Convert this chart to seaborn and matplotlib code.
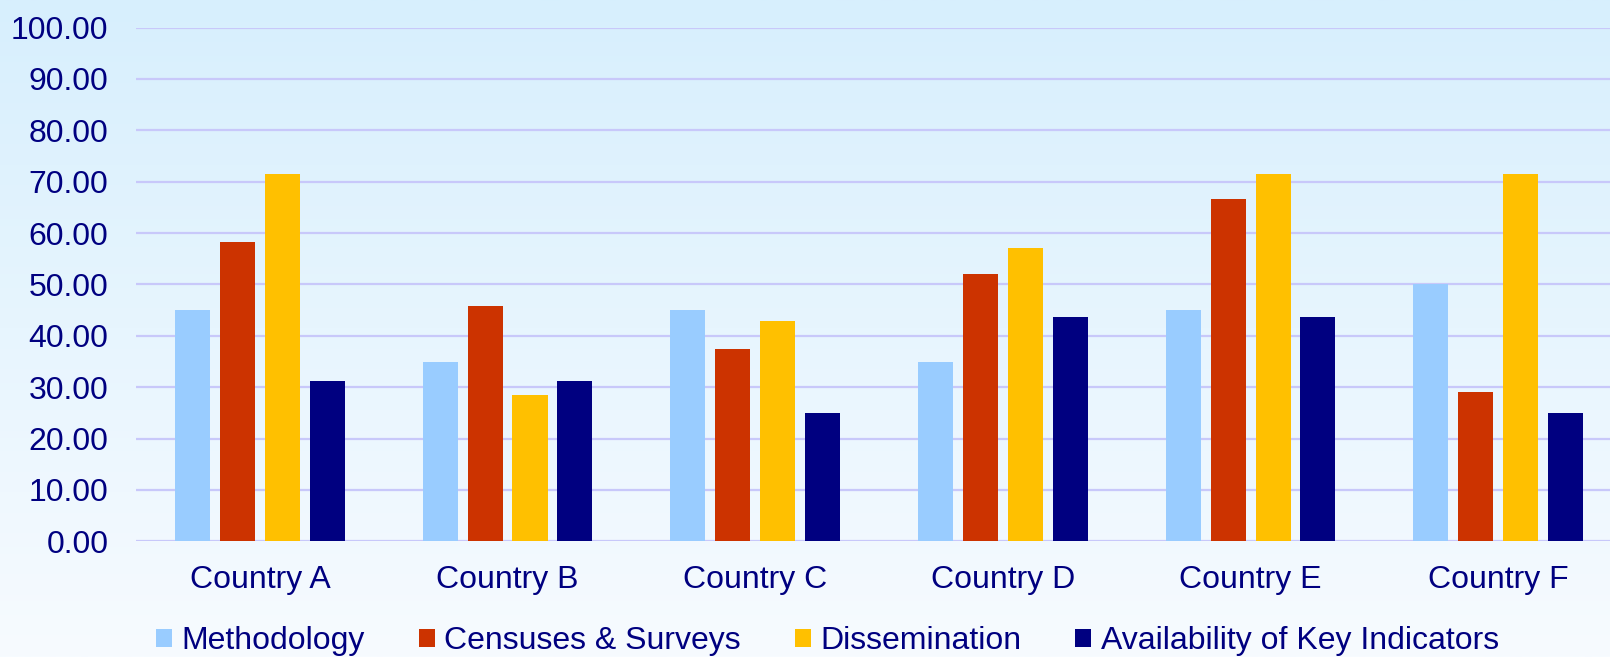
import numpy as np
import pandas as pd
import matplotlib
matplotlib.use('Agg')
import matplotlib.pyplot as plt
from matplotlib.colors import LinearSegmentedColormap
import seaborn as sns

# Data
countries = ['Country A', 'Country B', 'Country C', 'Country D', 'Country E', 'Country F']
categories = ['Methodology', 'Censuses & Surveys', 'Dissemination', 'Availability of Key Indicators']
methodology = [45.00, 35.00, 45.00, 35.00, 45.00, 50.00]
censuses = [58.33, 45.83, 37.50, 52.08, 66.67, 29.17]
dissemination = [71.43, 28.57, 42.86, 57.14, 71.43, 71.43]
availability = [31.25, 31.25, 25.00, 43.75, 43.75, 25.00]
yticks = [0, 10, 20, 30, 40, 50, 60, 70, 80, 90, 100]

colors = ['#99ccff', '#cc3300', '#ffc000', '#000080']
text_color = '#000080'

# long-form table for seaborn
rows = []
for cat, vals in zip(categories, [methodology, censuses, dissemination, availability]):
    for c, v in zip(countries, vals):
        rows.append({'country': c, 'category': cat, 'score': v})
df = pd.DataFrame(rows)

sns.set_style('white')
plt.rcParams['font.family'] = ['Liberation Sans', 'DejaVu Sans']

fig = plt.figure(figsize=(16.1, 6.57), dpi=100)

# gradient background
bg = fig.add_axes([0, 0, 1, 1], zorder=-10)
grad = np.linspace(0, 1, 256).reshape(-1, 1)
cmap = LinearSegmentedColormap.from_list('bg', ['#d7effd', '#f7fbff'])
bg.imshow(grad, aspect='auto', cmap=cmap, extent=[0, 1, 0, 1])
bg.axis('off')

ax = fig.add_axes([0.0845, 0.176, 0.923, 0.782])
ax.patch.set_alpha(0)

sns.barplot(data=df, x='country', y='score', hue='category', hue_order=categories,
            palette=colors, width=0.725, gap=0.22, errorbar=None, saturation=1,
            edgecolor='none', ax=ax)

ax.set_ylim(0, 100)
ax.set_yticks(yticks)
ax.set_yticklabels([f'{t:.2f}' for t in yticks])
ax.set_xlabel('')
ax.set_ylabel('')
ax.set_axisbelow(True)
ax.yaxis.grid(True, color='#c8c8fa', linewidth=1.6)
ax.xaxis.grid(False)
for s in ax.spines.values():
    s.set_visible(False)
ax.tick_params(axis='y', length=0, pad=20, labelsize=23, labelcolor=text_color)
ax.tick_params(axis='x', length=0, pad=17, labelsize=23, labelcolor=text_color)

ax.legend_.remove()
handles, labels = ax.get_legend_handles_labels()
fig.legend(handles, labels, loc='center', bbox_to_anchor=(0.514, 0.024), ncol=4,
           frameon=False, fontsize=23, labelcolor=text_color,
           handlelength=0.5, handleheight=0.5, handletextpad=0.3,
           columnspacing=1.68, borderaxespad=0)

fig.savefig('out.png', dpi=100)
